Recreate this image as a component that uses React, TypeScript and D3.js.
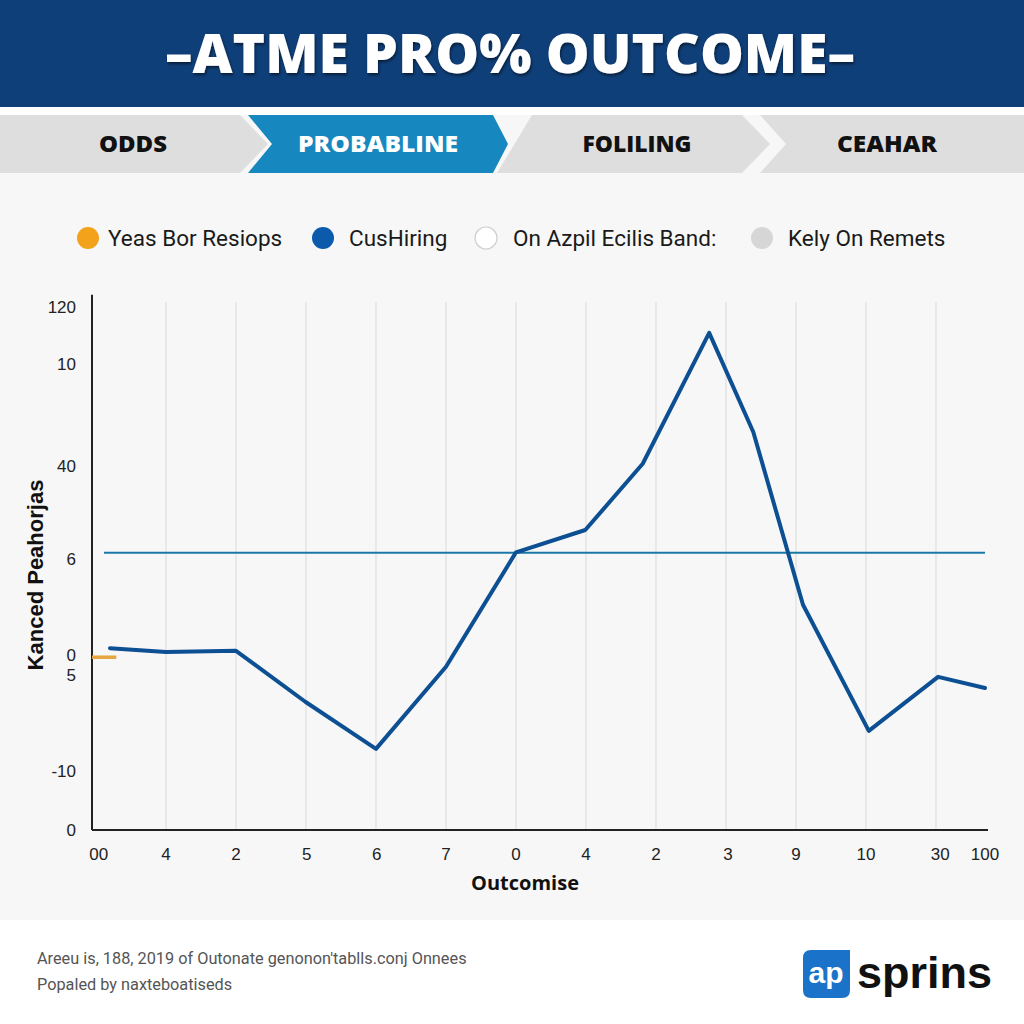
import React from "react";
import * as d3 from "d3";

const title = "–ATME PRO% OUTCOME–";
const tabs = ["ODDS", "PROBABLINE", "FOLILING", "CEAHAR"];
const activeTab = 1;

const legendLabels = ["Yeas Bor Resiops", "CusHiring", "On Azpil Ecilis Band:", "Kely On Remets"];
const legendColors = ["#f3a21c", "#0b5aab", "#ffffff", "#d6d6d6"];
const legendX = [88, 323, 486, 762];
const legendTextX = [108, 349, 513, 788];

// y tick labels and their positions on the (unitless) level scale
const yTickLabels = ["120", "10", "40", "6", "0", "5", "-10", "0"];
const yTickValues = [98.7, 87.9, 68.7, 51.1, 33.0, 29.3, 11.1, 0];

// x tick labels and positions
const xTickLabels = ["00", "4", "2", "5", "6", "7", "0", "4", "2", "3", "9", "10", "30", "100"];
const xTickValues = [0.04, 1, 2, 3.01, 4.01, 5, 6, 7, 8, 9.03, 10, 11, 12.06, 12.7];
const gridValues = [1, 2, 3, 4, 5, 6, 7, 8, 9, 10, 11, 12];

// main series
const seriesX = [0.2, 1, 2, 2.99, 4, 5, 6, 6.99, 7.81, 8.76, 9.39, 10.1, 11.04, 12.03, 12.7];
const seriesY = [34.3, 33.6, 33.8, 24.2, 15.3, 30.8, 52.4, 56.6, 69.1, 93.8, 75.1, 42.5, 18.7, 28.9, 26.8];

// reference line and orange marker
const refLevel = 52.3;
const refX = [0.114, 12.7];
const orangeLevel = 32.6;
const orangeX = [-0.057, 0.29];

const footerLines = [
  "Areeu is, 188, 2019 of Outonate genonon'tablls.conj Onnees",
  "Popaled by naxteboatiseds",
];

export default function App() {
  const W = 1024, H = 1024;
  const x = d3.scaleLinear().domain([-0.057, 12.743]).range([92, 988]);
  const y = d3.scaleLinear().domain([0, 100]).range([830, 300]);
  const line = d3.line<number>().x((_, i) => x(seriesX[i])).y((_, i) => y(seriesY[i]));

  const tabTop = 115, tabBot = 173, tabMid = 144;
  const tabShapes = [
    `M0,${tabTop} L240,${tabTop} L268,${tabMid} L240,${tabBot} L0,${tabBot} Z`,
    `M248,${tabTop} L493,${tabTop} L508,${tabMid} L493,${tabBot} L248,${tabBot} L272,${tabMid} Z`,
    `M532,${tabTop} L742,${tabTop} L770,${tabMid} L742,${tabBot} L497,${tabBot} Z`,
    `M760,${tabTop} L1024,${tabTop} L1024,${tabBot} L760,${tabBot} L786,${tabMid} Z`,
  ];
  const tabTextX = [133, 378, 637, 887];
  const tabTextW = [68, 160, 109, 100];

  return (
    <svg width={W} height={H} style={{ position: "absolute", left: 0, top: 0 }} xmlns="http://www.w3.org/2000/svg">
      <defs>
        <filter id="tshadow" x="-10%" y="-30%" width="120%" height="160%">
          <feDropShadow dx="1" dy="2" stdDeviation="1.5" floodColor="#000" floodOpacity="0.55" />
        </filter>
      </defs>
      <rect x={0} y={0} width={W} height={H} fill="#ffffff" />
      <rect x={0} y={107} width={W} height={813} fill="#f7f7f7" />
      <rect x={0} y={107} width={W} height={8} fill="#ffffff" />
      {/* header */}
      <rect x={0} y={0} width={W} height={107} fill="#0f3f79" />
      <text x={510} y={73} textAnchor="middle" fontFamily="'Open Sans', sans-serif" fontWeight={800}
        fontSize={54} fill="#ffffff" textLength={690} lengthAdjust="spacingAndGlyphs" filter="url(#tshadow)">{title}</text>

      {/* tabs */}
      {tabs.map((t, i) => (
        <g key={t}>
          <path d={tabShapes[i]} fill={i === activeTab ? "#1787bf" : "#dedede"} />
          <text x={tabTextX[i]} y={tabMid + 8} textAnchor="middle" fontFamily="'Open Sans', sans-serif"
            fontWeight={800} fontSize={22} textLength={tabTextW[i]} lengthAdjust="spacingAndGlyphs"
            fill={i === activeTab ? "#ffffff" : "#111111"}>{t}</text>
        </g>
      ))}

      {/* legend */}
      {legendLabels.map((l, i) => (
        <g key={l}>
          <circle cx={legendX[i]} cy={238} r={11} fill={legendColors[i]}
            stroke={i === 2 ? "#cfcfcf" : "none"} strokeWidth={1.2} />
          <text x={legendTextX[i]} y={246} fontFamily="Roboto, sans-serif" fontSize={22.5} fill="#1a1a1a">{l}</text>
        </g>
      ))}

      {/* grid */}
      {gridValues.map((g) => (
        <line key={g} x1={x(g)} x2={x(g)} y1={y(100) + 2} y2={y(0)} stroke="#e4e4e4" strokeWidth={1.5} />
      ))}

      {/* axes */}
      <line x1={x(-0.057)} x2={x(-0.057)} y1={y(101)} y2={y(0)} stroke="#222" strokeWidth={2} />
      <line x1={x(-0.057)} x2={x(12.743)} y1={y(0)} y2={y(0)} stroke="#222" strokeWidth={2} />

      {yTickLabels.map((l, i) => (
        <text key={i} x={76} y={y(yTickValues[i]) + 6} textAnchor="end" fontFamily="'Liberation Sans', Arial, sans-serif"
          fontSize={17} fill="#222">{l}</text>
      ))}
      {xTickLabels.map((l, i) => (
        <text key={i} x={x(xTickValues[i])} y={860} textAnchor="middle" fontFamily="'Liberation Sans', Arial, sans-serif"
          fontSize={17} fill="#222">{l}</text>
      ))}

      <text transform={`translate(43,575) rotate(-90)`} textAnchor="middle" fontFamily="'Liberation Sans', Arial, sans-serif"
        fontWeight={700} fontSize={22} fill="#111">Kanced Peahorjas</text>
      <text x={525} y={890} textAnchor="middle" fontFamily="'Open Sans', sans-serif" fontWeight={700}
        fontSize={20} fill="#111">Outcomise</text>

      {/* reference & orange */}
      <line x1={x(refX[0])} x2={x(refX[1])} y1={y(refLevel)} y2={y(refLevel)} stroke="#1b78a6" strokeWidth={2} />
      <line x1={x(orangeX[0])} x2={x(orangeX[1])} y1={y(orangeLevel)} y2={y(orangeLevel)} stroke="#e6a63f" strokeWidth={3.5} />

      {/* series */}
      <path d={line(seriesX) || ""} fill="none" stroke="#0d4f93" strokeWidth={4} strokeLinejoin="round" strokeLinecap="round" />

      {/* footer */}
      {footerLines.map((f, i) => (
        <text key={i} x={37} y={964 + i * 26} fontFamily="Roboto, sans-serif" fontSize={16.3} fill="#555">{f}</text>
      ))}
      <path d="M803,958 Q803,950 811,950 L850,950 L850,990 Q850,998 842,998 L811,998 Q803,998 803,990 Z" fill="#1a73c9" />
      <text x={826} y={983} textAnchor="middle" fontFamily="'Liberation Sans', Arial, sans-serif" fontWeight={700}
        fontSize={30} fill="#ffffff">ap</text>
      <text x={857} y={988} fontFamily="'Liberation Sans', Arial, sans-serif" fontWeight={700}
        fontSize={45} fill="#111">sprins</text>
    </svg>
  );
}
